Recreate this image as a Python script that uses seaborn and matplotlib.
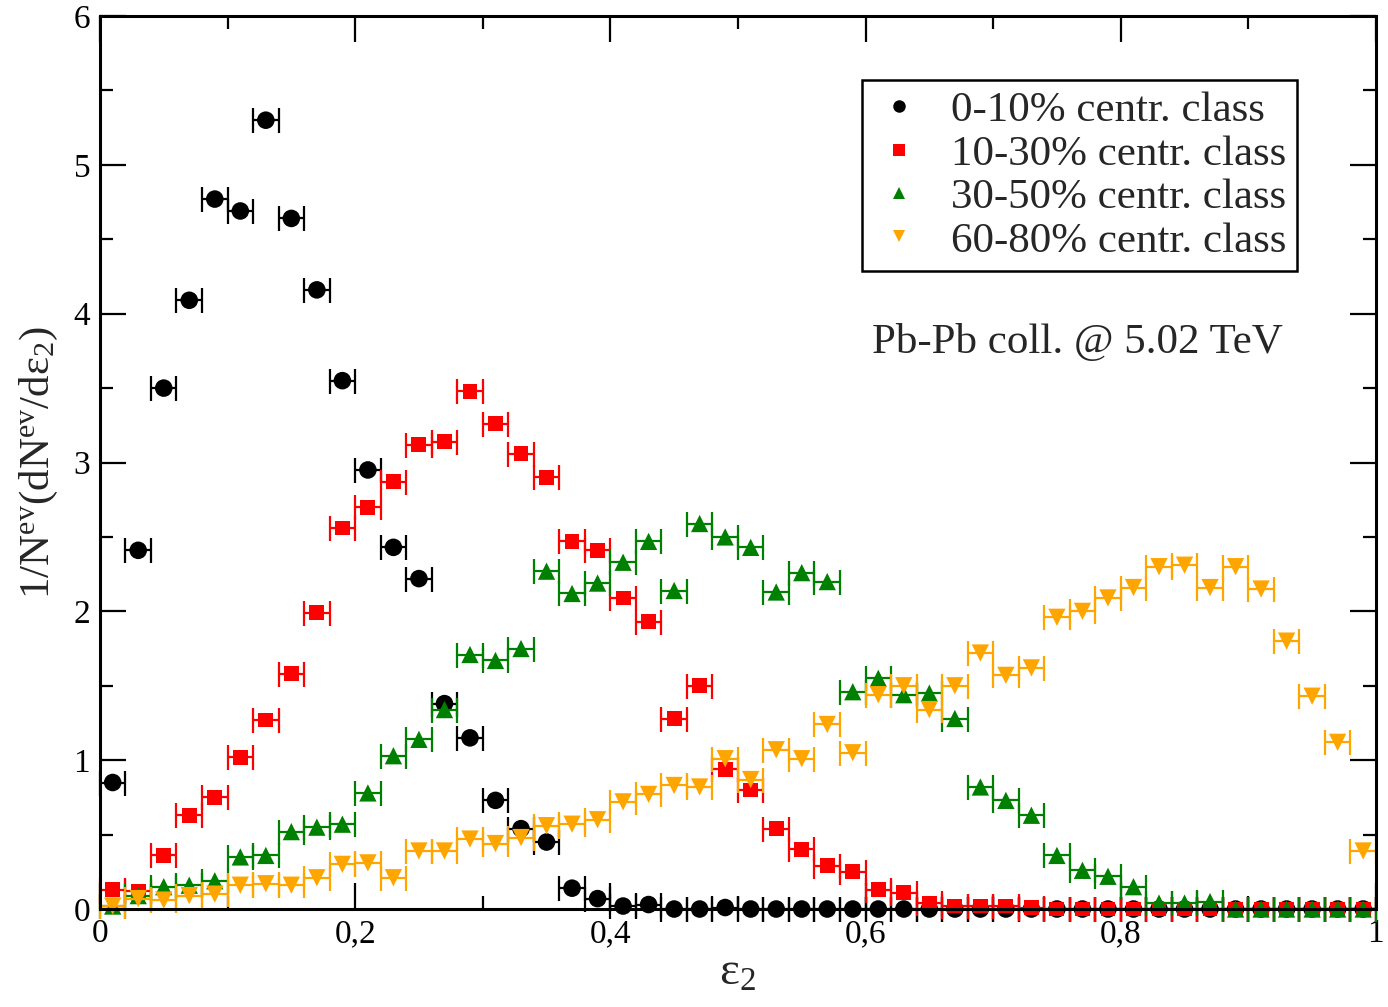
import matplotlib
matplotlib.use("Agg")
import matplotlib.pyplot as plt
import seaborn as sns
import pandas as pd

# ---------------- DATA ----------------
eps2 = [0.01, 0.03, 0.05, 0.07, 0.09, 0.11, 0.13, 0.15, 0.17, 0.19,
        0.21, 0.23, 0.25, 0.27, 0.29, 0.31, 0.33, 0.35, 0.37, 0.39,
        0.41, 0.43, 0.45, 0.47, 0.49, 0.51, 0.53, 0.55, 0.57, 0.59,
        0.61, 0.63, 0.65, 0.67, 0.69, 0.71, 0.73, 0.75, 0.77, 0.79,
        0.81, 0.83, 0.85, 0.87, 0.89, 0.91, 0.93, 0.95, 0.97, 0.99]
bin_half = 0.01

c0_10 = [0.85, 2.41, 3.50, 4.09, 4.77, 4.69, 5.30, 4.64, 4.16, 3.55,
         2.95, 2.43, 2.22, 1.38, 1.15, 0.73, 0.54, 0.45, 0.14, 0.07,
         0.02, 0.03, 0.00, 0.00, 0.01, 0.00, 0.00, 0.00, 0.00, 0.00,
         0.00, 0.00, 0.00, 0.00, 0.00, 0.00, 0.00, 0.00, 0.00, 0.00,
         0.00, 0.00, 0.00, 0.00, 0.00, 0.00, 0.00, 0.00, 0.00, 0.00]
c10_30 = [0.13, 0.12, 0.36, 0.63, 0.75, 1.02, 1.27, 1.58, 1.99, 2.56,
          2.70, 2.87, 3.12, 3.14, 3.48, 3.26, 3.06, 2.90, 2.47, 2.41,
          2.09, 1.93, 1.28, 1.50, 0.94, 0.80, 0.54, 0.40, 0.29, 0.25,
          0.13, 0.11, 0.04, 0.02, 0.02, 0.02, 0.01, 0.00, 0.00, 0.00,
          0.00, 0.00, 0.00, 0.00, 0.00, 0.00, 0.00, 0.00, 0.00, 0.00]
c30_50 = [0.02, 0.09, 0.15, 0.16, 0.19, 0.35, 0.36, 0.52, 0.55, 0.57,
          0.78, 1.03, 1.14, 1.34, 1.71, 1.67, 1.75, 2.27, 2.12, 2.19,
          2.33, 2.47, 2.14, 2.59, 2.50, 2.43, 2.13, 2.26, 2.20, 1.46,
          1.55, 1.44, 1.45, 1.28, 0.82, 0.73, 0.63, 0.36, 0.26, 0.22,
          0.15, 0.04, 0.04, 0.05, 0.00, 0.00, 0.00, 0.00, 0.00, 0.00]
c60_80 = [0.02, 0.07, 0.06, 0.09, 0.10, 0.16, 0.17, 0.16, 0.21, 0.30,
          0.31, 0.21, 0.39, 0.39, 0.47, 0.44, 0.48, 0.56, 0.57, 0.60,
          0.72, 0.77, 0.83, 0.82, 1.01, 0.87, 1.07, 1.01, 1.24, 1.05,
          1.44, 1.50, 1.34, 1.50, 1.72, 1.57, 1.62, 1.96, 2.00, 2.09,
          2.16, 2.30, 2.31, 2.16, 2.30, 2.15, 1.80, 1.43, 1.12, 0.39]

labels = ["0-10% centr. class", "10-30% centr. class",
          "30-50% centr. class", "60-80% centr. class"]
xtick_vals = [0, 0.2, 0.4, 0.6, 0.8, 1.0]
xtick_labels = ["0", "0,2", "0,4", "0,6", "0,8", "1"]
ytick_vals = [0, 1, 2, 3, 4, 5, 6]
# ---------------------------------------

series = [
    (c0_10, "black", "o", 160),
    (c10_30, "red", "s", 115),
    (c30_50, "green", "^", 155),
    (c60_80, "orange", "v", 155),
]

sns.set_style("ticks")
plt.rcParams["font.family"] = ["Liberation Serif", "DejaVu Serif"]
plt.rcParams["mathtext.fontset"] = "custom"
plt.rcParams["mathtext.rm"] = "Liberation Serif"
plt.rcParams["mathtext.it"] = "Liberation Serif"
plt.rcParams["mathtext.bf"] = "Liberation Serif:bold"

fig = plt.figure(figsize=(13.88, 10.07), dpi=100)
ax = fig.add_axes([0.072, 0.0973, 0.9193, 0.8868])

# error bars first, markers on top; later series drawn over earlier ones
z = 3
for vals, col, mk, size in series:
    df = pd.DataFrame({"eps": eps2, "val": vals})
    eb = ax.errorbar(df["eps"], df["val"], xerr=bin_half, fmt="none",
                     ecolor=col, elinewidth=1.6, capsize=9, capthick=1.6,
                     zorder=z)
    for part in eb.get_children():
        part.set_clip_on(False)
    sns.scatterplot(data=df, x="eps", y="val", ax=ax, color=col, marker=mk,
                    s=size, edgecolor="none", linewidth=0, zorder=z + 1,
                    legend=False)
    ax.collections[-1].set_clip_on(False)
    z += 2

handles = [plt.Line2D([], [], linestyle="none", marker=mk, color=col,
                      markersize=9 if mk != "s" else 8, markeredgewidth=0)
           for _, col, mk, _ in series]
leg = ax.legend(handles, labels, loc="upper right",
                bbox_to_anchor=(0.938, 0.928), fontsize=31, frameon=True,
                fancybox=False, framealpha=1, edgecolor="black",
                handlelength=1.2, handletextpad=0.6, borderpad=0.25,
                labelspacing=0.1, borderaxespad=0)
leg.get_frame().set_linewidth(1.8)
leg.set_zorder(20)

ax.text(0.605, 0.634, "Pb-Pb coll. @ 5.02 TeV", transform=ax.transAxes,
        fontsize=31, ha="left", va="center")

ax.set_xlim(0, 1)
ax.set_ylim(0, 6)
ax.set_xticks(xtick_vals, labels=xtick_labels)
ax.set_yticks(ytick_vals)
ax.set_xticks([0.1, 0.3, 0.5, 0.7, 0.9], minor=True)
ax.set_yticks([0.5, 1.5, 2.5, 3.5, 4.5, 5.5], minor=True)
ax.tick_params(which="both", direction="in", top=True, right=True,
               labelsize=24, width=1.6, colors="black")
ax.tick_params(which="major", length=19, pad=7)
ax.tick_params(which="minor", length=9.5)
for sp in ax.spines.values():
    sp.set_linewidth(2.2)
    sp.set_color("black")
    sp.set_zorder(30)

ax.set_xlabel("ε$_2$", fontsize=34, labelpad=2)
ax.set_ylabel("1/N$^{\\mathrm{ev}}$(dN$^{\\mathrm{ev}}$/dε$_2$)", fontsize=31,
              labelpad=10)

fig.savefig("out.png", dpi=100)
